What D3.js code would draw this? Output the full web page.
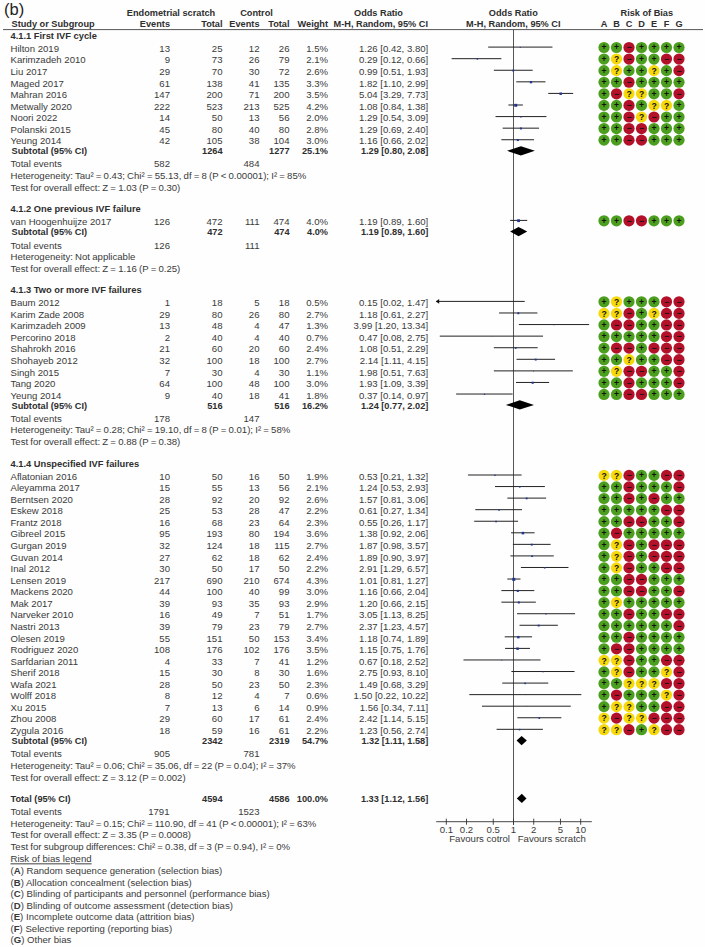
<!DOCTYPE html>
<html><head><meta charset="utf-8">
<script src="https://cdn.jsdelivr.net/npm/d3@7/dist/d3.min.js"></script>
<style>
html,body{margin:0;padding:0;background:#fff;}
svg{display:block;}
text{font-family:"Liberation Sans",Arial,sans-serif;font-size:9.6px;fill:#3a3a3a;}
.b{font-weight:bold;font-size:9.2px;fill:#2e2e2e;}
.g{font-size:8.6px;font-weight:bold;fill:#111;text-anchor:middle;}
.n{word-spacing:-0.47px;}
</style></head><body>
<script>
// ---------- data ----------
const sectionTitles = ["4.1.1 First IVF cycle","4.1.2 One previous IVF failure","4.1.3 Two or more IVF failures","4.1.4 Unspecified IVF failures"];
const studySection = [0,0,0,0,0,0,0,0,0,1,2,2,2,2,2,2,2,2,2,3,3,3,3,3,3,3,3,3,3,3,3,3,3,3,3,3,3,3,3,3,3,3];
const studies = ["Hilton 2019","Karimzadeh 2010","Liu 2017","Maged 2017","Mahran 2016","Metwally 2020","Noori 2022","Polanski 2015","Yeung 2014",
 "van Hoogenhuijze 2017",
 "Baum 2012","Karim Zade 2008","Karimzadeh 2009","Percorino 2018","Shahrokh 2016","Shohayeb 2012","Singh 2015","Tang 2020","Yeung 2014",
 "Aflatonian 2016","Aleyamma 2017","Berntsen 2020","Eskew 2018","Frantz 2018","Gibreel 2015","Gurgan 2019","Guvan 2014","Inal 2012","Lensen 2019","Mackens 2020","Mak 2017","Narveker 2010","Nastri 2013","Olesen 2019","Rodriguez 2020","Sarfdarian 2011","Sherif 2018","Wafa 2021","Wolff 2018","Xu 2015","Zhou 2008","Zygula 2016"];
const eventsScratch = [13,9,29,61,147,222,14,45,42, 126, 1,29,13,2,21,32,7,64,9, 10,15,28,25,16,95,32,27,30,217,44,39,16,39,55,108,4,15,28,8,7,29,18];
const totalScratch  = [25,73,70,138,200,523,50,80,105, 472, 18,80,48,40,60,100,30,100,40, 50,55,92,53,68,193,124,62,50,690,100,93,49,79,151,176,33,30,50,12,13,60,59];
const eventsControl = [12,26,30,41,71,213,13,40,38, 111, 5,26,4,4,20,18,4,48,18, 16,13,20,28,23,80,18,18,17,210,40,35,7,23,50,102,7,8,23,4,6,17,16];
const totalControl  = [26,79,72,135,200,525,56,80,104, 474, 18,80,47,40,60,100,30,100,41, 50,56,92,47,64,194,115,62,50,674,99,93,51,79,153,176,41,30,50,7,14,61,61];
const weights = [1.5,2.1,2.6,3.3,3.5,4.2,2.0,2.8,3.0, 4.0, 0.5,2.7,1.3,0.7,2.4,2.7,1.1,3.0,1.8, 1.9,2.1,2.6,2.2,2.3,3.6,2.7,2.4,2.2,4.3,3.0,2.9,1.7,2.7,3.4,3.5,1.2,1.6,2.3,0.6,0.9,2.4,2.2];
const orMid = [1.26,0.29,0.99,1.82,5.04,1.08,1.29,1.29,1.16, 1.19, 0.15,1.18,3.99,0.47,1.08,2.14,1.98,1.93,0.37, 0.53,1.24,1.57,0.61,0.55,1.38,1.87,1.89,2.91,1.01,1.16,1.20,3.05,2.37,1.18,1.15,0.67,2.75,1.49,1.50,1.56,2.42,1.23];
const orLow = [0.42,0.12,0.51,1.10,3.29,0.84,0.54,0.69,0.66, 0.89, 0.02,0.61,1.20,0.08,0.51,1.11,0.51,1.09,0.14, 0.21,0.53,0.81,0.27,0.26,0.92,0.98,0.90,1.29,0.81,0.66,0.66,1.13,1.23,0.74,0.75,0.18,0.93,0.68,0.22,0.34,1.14,0.56];
const orHigh = [3.80,0.66,1.93,2.99,7.73,1.38,3.09,2.40,2.02, 1.60, 1.47,2.27,13.34,2.75,2.29,4.15,7.63,3.39,0.97, 1.32,2.93,3.06,1.34,1.17,2.06,3.57,3.97,6.57,1.27,2.04,2.15,8.25,4.57,1.89,1.76,2.52,8.10,3.29,10.22,7.11,5.15,2.74];
const biasDomains = ["A","B","C","D","E","F","G"];
const bias = ["++-++++","+?-++--","+?++?+-","++-++++","+-??++-","++-+??+","++-?-++","++--+++","++--+++",
 "++--+++",
 "+?+++--","??-+?--","+--++--","+++++--","+--+---","++?++--","+?--++-","++-+++-","++--+++",
 "??-++--","++-+++-","++-+-++","+++++--","++--++-","+-+++++","+?-+---","+?-+---","+?-++--","++--+++","++--++-","+?+++++","++-++--","++++++-","++-++++","+--++++","??-++--","+?-++?-","++???--","+-+++?-","+??++--","?-??---","??-+?--"];
const subtotalTotals = [[1264,1277,"25.1%"],[472,474,"4.0%"],[516,516,"16.2%"],[2342,2319,"54.7%"]];
const subtotalOr = [[1.29,0.80,2.08],[1.19,0.89,1.60],[1.24,0.77,2.02],[1.32,1.11,1.58]];
const subtotalEvents = [[582,484],[126,111],[178,147],[905,781]];
const heterogeneity = ["Heterogeneity: Tau² = 0.43; Chi² = 55.13, df = 8 (P < 0.00001); I² = 85%","Heterogeneity: Not applicable","Heterogeneity: Tau² = 0.28; Chi² = 19.10, df = 8 (P = 0.01); I² = 58%","Heterogeneity: Tau² = 0.06; Chi² = 35.06, df = 22 (P = 0.04); I² = 37%"];
const overallTest = ["Test for overall effect: Z = 1.03 (P = 0.30)","Test for overall effect: Z = 1.16 (P = 0.25)","Test for overall effect: Z = 0.88 (P = 0.38)","Test for overall effect: Z = 3.12 (P = 0.002)"];
const grandOr = [1.33,1.12,1.56];
const grandTotals = [4594,4586,"100.0%"];
const grandEvents = [1791,1523];
const grandNotes = ["Heterogeneity: Tau² = 0.15; Chi² = 110.90, df = 41 (P < 0.00001); I² = 63%","Test for overall effect: Z = 3.35 (P = 0.0008)","Test for subgroup differences: Chi² = 0.38, df = 3 (P = 0.94), I² = 0%"];
const legendTitle = "Risk of bias legend";
const legendItems = ["Random sequence generation (selection bias)","Allocation concealment (selection bias)","Blinding of participants and personnel (performance bias)","Blinding of outcome assessment (detection bias)","Incomplete outcome data (attrition bias)","Selective reporting (reporting bias)","Other bias"];
const axisTicks = [0.1,0.2,0.5,1,2,5,10];

// ---------- layout ----------
const W=705,H=947;
const svg=d3.select("body").append("svg").attr("width",W).attr("height",H);
svg.append("rect").attr("width",W).attr("height",H).attr("fill","#fefefe");
const X={study:10.5,evT:170,totT:222.5,evC:259.5,totC:289.5,wt:328,or:428.3};
// log scale: 0.1→446.3, 10→580.7
const x=d3.scaleLog().domain([0.1,10]).range([446.3,580.7]);
const xMin=436.2, xMax=591.8;
const fmt=d3.format(".2f");
const ciText=(a)=>`${fmt(a[0])} [${fmt(a[1])}, ${fmt(a[2])}]`;
function t(s,xx,yy,anchor,cls){const e=svg.append("text").attr("x",xx).attr("y",yy).attr("dy","0.35em").attr("text-anchor",anchor||"start").text(s);if(cls)e.attr("class",cls);return e;}

// header
t("(b)",4,9.5).style("font-size","16.5px").style("fill","#222");
t("Endometrial scratch",171,12.7,"middle","b");
t("Control",256.5,12.7,"middle","b");
t("Odds Ratio",378.5,12.7,"middle","b");
t("Odds Ratio",513.3,12.7,"middle","b");
t("Risk of Bias",646.8,12.7,"middle","b");
t("Study or Subgroup",11.5,24,"start","b");
t("Events",X.evT,24,"end","b");
t("Total",X.totT,24,"end","b");
t("Events",X.evC,24,"end","b");
t("Total",X.totC,24,"end","b");
t("Weight",X.wt,24,"end","b");
t("M-H, Random, 95% CI",428,24,"end","b");
t("M-H, Random, 95% CI",513.3,24,"middle","b");
const biasX=d3.scalePoint().domain(biasDomains).range([604,679]);
biasDomains.forEach(d=>t(d,biasX(d),24,"middle","b"));
svg.append("line").attr("x1",3).attr("x2",703).attr("y1",29.6).attr("y2",29.6).attr("stroke","#555").attr("stroke-width",1);

// per-section vertical geometry
const firstRow=[47.1,220.4,301.4,475.0];
const step=[11.58,11.58,11.58,11.56];
const headerY=[35.8,209,290,463.3];
const subY=[151.2,232,405.3,741];
const eventsY=[164,245.3,418.7,754];
const hetY=[175.7,257,430,765.7];
const testY=[187.3,268.3,441.7,777.3];

// null line
const zeroX=x(1);
svg.append("line").attr("x1",zeroX).attr("x2",zeroX).attr("y1",29.6).attr("y2",825).attr("stroke","#444").attr("stroke-width",0.9);

const sqr=d3.scaleLinear().domain([0,4.3]).range([0,3]);
const circle={"+":"#4c9e1f","-":"#b3102a","?":"#f5d90a"};
const glyph={"+":"+","-":"−","?":"?"};

sectionTitles.forEach((title,s)=>{
  t(title,10.5,headerY[s],"start","b").style("font-size","9.3px");
  const idx=d3.range(studies.length).filter(i=>studySection[i]===s);
  idx.forEach((i,k)=>{
    const yl=firstRow[s]+step[s]*k, yt=yl+1.3;
    t(studies[i],X.study,yt);
    t(eventsScratch[i],X.evT,yt,"end");
    t(totalScratch[i],X.totT,yt,"end");
    t(eventsControl[i],X.evC,yt,"end");
    t(totalControl[i],X.totC,yt,"end");
    t(weights[i].toFixed(1)+"%",X.wt,yt,"end");
    t(ciText([orMid[i],orLow[i],orHigh[i]]),X.or,yt,"end");
    // CI line
    const lo=Math.max(x(orLow[i]),xMin), hi=Math.min(x(orHigh[i]),xMax);
    svg.append("line").attr("x1",lo).attr("x2",hi).attr("y1",yl).attr("y2",yl).attr("stroke","#222").attr("stroke-width",1);
    if(x(orLow[i])<xMin){
      svg.append("path").attr("d",d3.line()([[lo-0.4,yl],[lo+3,yl-2.3],[lo+3,yl+2.3]])+"Z").attr("fill","#111");
    }
    const w=sqr(weights[i]);
    svg.append("rect").attr("x",x(orMid[i])-w/2).attr("y",yl+0.3-w/2).attr("width",w).attr("height",w).attr("fill","#23368f");
    // risk of bias
    biasDomains.forEach((d,j)=>{
      const c=bias[i][j], cy=yl+0.4;
      svg.append("circle").attr("cx",biasX(d)).attr("cy",cy).attr("r",5.6).attr("fill",circle[c]);
      t(glyph[c],biasX(d),cy+(c==="?"?0.2:-0.1),"middle","g");
    });
  });
  // subtotal
  const sy=subY[s];
  t("Subtotal (95% CI)",11.5,sy,"start","b");
  t(subtotalTotals[s][0],X.totT,sy,"end","b");
  t(subtotalTotals[s][1],X.totC,sy,"end","b");
  t(subtotalTotals[s][2],X.wt,sy,"end","b");
  t(ciText(subtotalOr[s]),X.or,sy,"end","b");
  diamond(subtotalOr[s],sy-0.4);
  t("Total events",X.study,eventsY[s]);
  t(subtotalEvents[s][0],X.evT,eventsY[s],"end");
  t(subtotalEvents[s][1],X.evC,eventsY[s],"end");
  t(heterogeneity[s],X.study,hetY[s],"start","n");
  t(overallTest[s],X.study,testY[s],"start","n");
});
function diamond(a,cy){
  svg.append("path").attr("d",d3.line()([[x(a[1]),cy],[x(a[0]),cy-4.6],[x(a[2]),cy],[x(a[0]),cy+4.6]])+"Z").attr("fill","#000");
}
// overall
t("Total (95% CI)",10.5,799,"start","b");
t(grandTotals[0],X.totT,799,"end","b");
t(grandTotals[1],X.totC,799,"end","b");
t(grandTotals[2],X.wt,799,"end","b");
t(ciText(grandOr),X.or,799,"end","b");
diamond(grandOr,798.4);
t("Total events",X.study,811.7);
t(grandEvents[0],X.evT-0.5,811.7,"end");
t(grandEvents[1],X.evC,811.7,"end");
grandNotes.forEach((n,i)=>t(n,X.study,823.3+11.7*i,"start","n"));
// legend
t(legendTitle,X.study,859).style("text-decoration","underline");
legendItems.forEach((n,i)=>{
  const e=svg.append("text").attr("x",X.study).attr("y",870.7+11.5*i).attr("dy","0.35em");
  e.append("tspan").text("(");
  e.append("tspan").style("font-weight","bold").text(biasDomains[i]);
  e.append("tspan").text(") "+n);
});
// axis
const axisG=svg.append("g").attr("transform","translate(0,821.7)");
axisG.append("line").attr("x1",xMin).attr("x2",xMax).attr("stroke","#333").attr("stroke-width",0.9);
axisG.selectAll("line.tk").data(axisTicks).join("line").attr("class","tk").attr("x1",d=>x(d)).attr("x2",d=>x(d)).attr("y1",-3).attr("y2",3).attr("stroke","#333").attr("stroke-width",0.9);
axisTicks.forEach(d=>t(d,x(d),829.4,"middle"));
t("Favours cotrol",510,839,"end");
t("Favours scratch",517.7,839,"start");
</script></body></html>
